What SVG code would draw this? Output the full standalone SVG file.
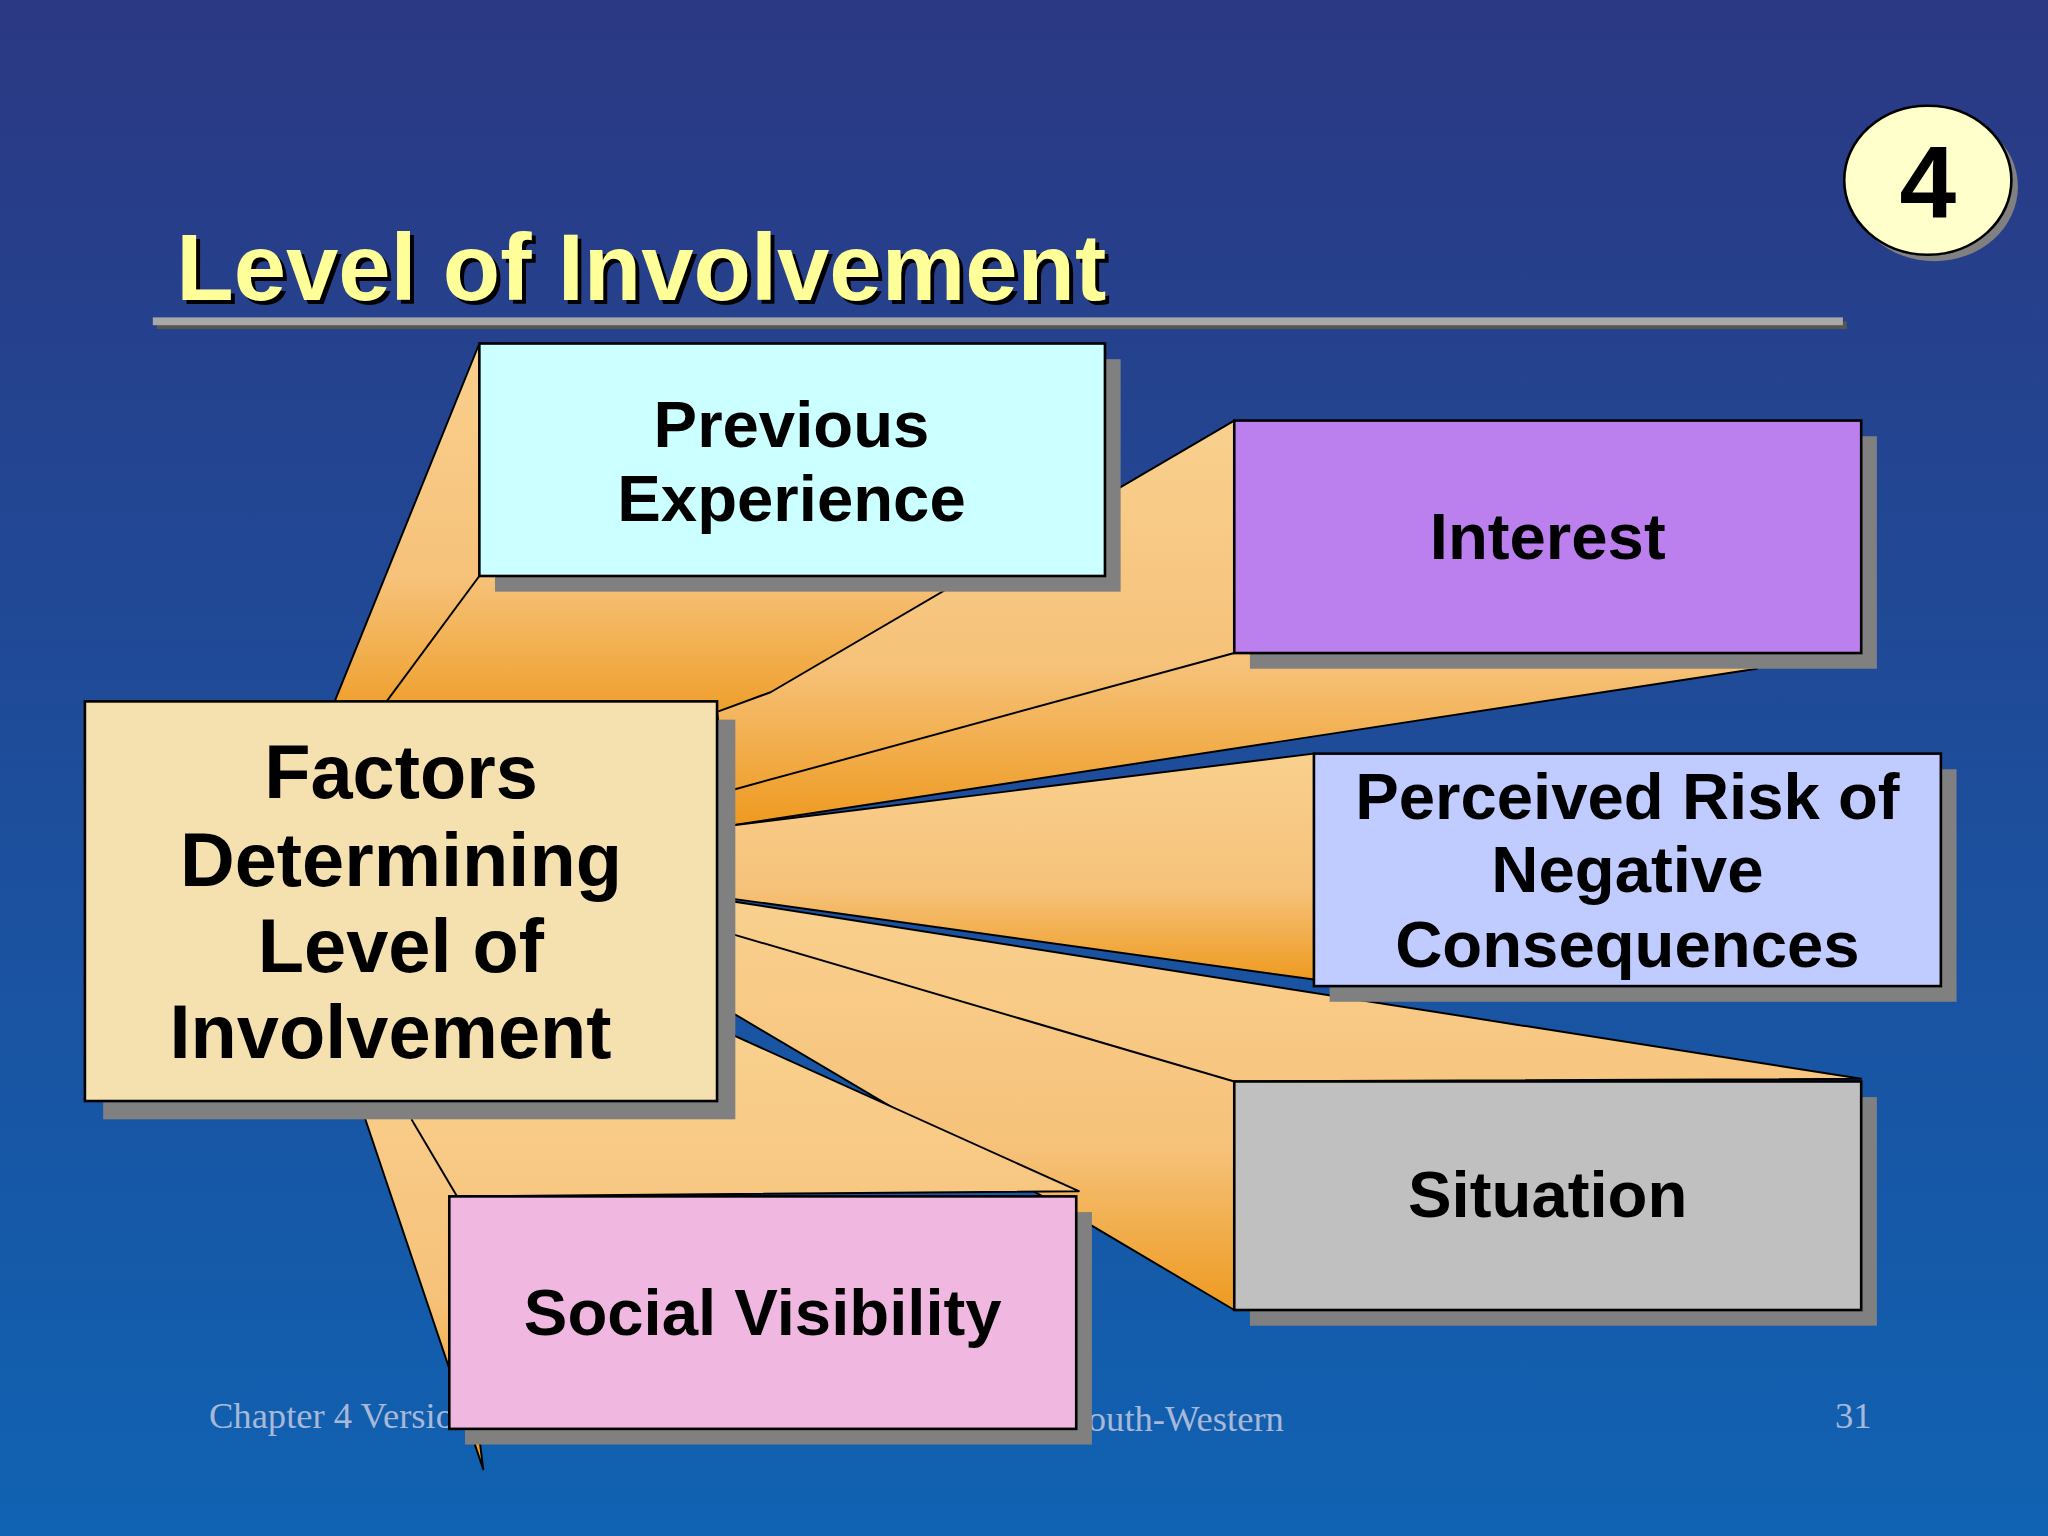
<svg xmlns="http://www.w3.org/2000/svg" width="2048" height="1536" viewBox="0 0 2048 1536">
<defs>
<linearGradient id="bg" x1="0" y1="0" x2="0" y2="1"><stop offset="0" stop-color="#2b3883"/><stop offset="1" stop-color="#1062b2"/></linearGradient>
<linearGradient id="fan" x1="0" y1="0" x2="0" y2="1"><stop offset="0" stop-color="#f9d08e"/><stop offset="0.6" stop-color="#f6c27a"/><stop offset="1" stop-color="#ee9a20"/></linearGradient>
<style>
.w{fill:url(#fan);stroke:#000;stroke-width:1.5;stroke-linejoin:round}
.sh{fill:#808080}
.bx{stroke:#000;stroke-width:2}
.t{font-family:"Liberation Sans",Arial,sans-serif;font-weight:bold;fill:#000;text-anchor:middle}
.f{font-family:"Liberation Serif","Times New Roman",serif;fill:#a8b8d8;font-size:28px}
</style>
</defs>
<rect width="2048" height="1536" fill="url(#bg)"/>
<g transform="scale(1.3061)">
<text class="f" x="160" y="1093">Chapter 4 Version</text>
<text class="f" x="983" y="1096" text-anchor="end">South-Western</text>
<text class="f" x="1405" y="1093">31</text>
<g id="title">
<text x="138" y="233" font-family="Liberation Sans,Arial,sans-serif" font-weight="bold" font-size="72" fill="#000">Level of Involvement</text>
<text x="135" y="230" font-family="Liberation Sans,Arial,sans-serif" font-weight="bold" font-size="72" fill="#ffff99">Level of Involvement</text>
<rect x="120" y="246" width="1294" height="6" fill="#555"/>
<rect x="117" y="243" width="1294" height="6" fill="#a8a8a8"/>
</g>
<g id="badge">
<ellipse cx="1481" cy="143" rx="64" ry="57" fill="#808080"/>
<ellipse cx="1476" cy="138" rx="64" ry="57" fill="#ffffcc" stroke="#000" stroke-width="2"/>
<text class="t" x="1476" y="166" font-size="78">4</text>
</g>
<g id="connectors">
<polygon class="w" points="367,263 846,441 549,560 255,540"/>
<line x1="367" y1="441" x2="296" y2="537" stroke="#000" stroke-width="1.5"/>
<polygon class="w" points="945,322 1345,512 560,632 549,545 590,530"/>
<line x1="560" y1="605" x2="945" y2="500" stroke="#000" stroke-width="1.5"/>
<polygon class="w" points="1006,577 1006,750 560,688 560,632"/>
<polygon class="w" points="560,690 1425,826 945,828 945,1003 560,775"/>
<line x1="560" y1="715" x2="945" y2="828" stroke="#000" stroke-width="1.5"/>
<polygon class="w" points="275,843 370,1125 344,916 826,912 560,792"/>
<line x1="315" y1="857" x2="350" y2="916" stroke="#000" stroke-width="1.5"/>
</g>
<g id="n-prev"><rect class="sh" x="379" y="275" width="479" height="178"/><rect class="bx" x="367" y="263" width="479" height="178" fill="#ccffff"/>
<text class="t" font-size="50"><tspan x="606" y="342">Previous</tspan><tspan x="606" y="399">Experience</tspan></text></g>
<g id="n-interest"><rect class="sh" x="957" y="334" width="480" height="178"/><rect class="bx" x="945" y="322" width="480" height="178" fill="#bb80ee"/>
<text class="t" font-size="50" x="1185" y="428">Interest</text></g>
<g id="n-risk"><rect class="sh" x="1018" y="589" width="480" height="178"/><rect class="bx" x="1006" y="577" width="480" height="178" fill="#c0ccff"/>
<text class="t" font-size="50"><tspan x="1246" y="627">Perceived Risk of</tspan><tspan x="1246" y="683">Negative</tspan><tspan x="1246" y="740">Consequences</tspan></text></g>
<g id="n-situation"><rect class="sh" x="957" y="840" width="480" height="175"/><rect class="bx" x="945" y="828" width="480" height="175" fill="#c0c0c0"/>
<text class="t" font-size="50" x="1185" y="932">Situation</text></g>
<g id="n-social"><rect class="sh" x="356" y="928" width="480" height="178"/><rect class="bx" x="344" y="916" width="480" height="178" fill="#f0b8e0"/>
<text class="t" font-size="50" x="584" y="1022">Social Visibility</text></g>
<g id="n-center"><rect class="sh" x="79" y="551" width="484" height="306"/><rect class="bx" x="65" y="537" width="484" height="306" fill="#f5e0b0"/>
<text class="t" font-size="58"><tspan x="307" y="611">Factors</tspan><tspan x="307" y="678">Determining</tspan><tspan x="307" y="744">Level of</tspan><tspan x="299" y="810">Involvement</tspan></text></g>
</g>
</svg>
